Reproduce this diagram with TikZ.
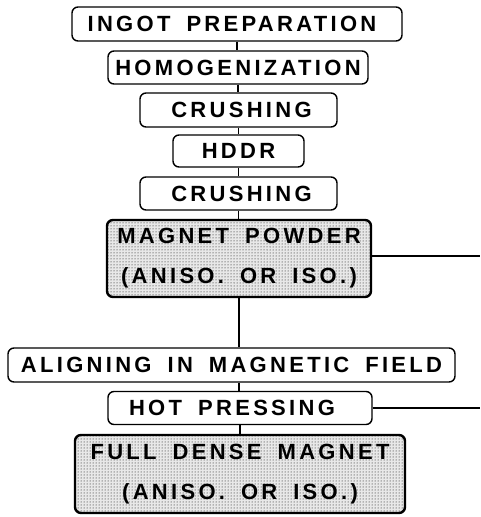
\documentclass[tikz,border=0pt]{standalone}
\usepackage{fontspec}
\setmainfont{Liberation Sans}[LetterSpace=15, WordSpace=1.7]
\usetikzlibrary{patterns}
\tikzset{
  stepbox/.style={draw, line width=1.4pt, rounded corners=6pt, inner sep=0pt,
    font=\bfseries\fontsize{22}{40}\selectfont},
  resultbox/.style={stepbox, line width=2.4pt, align=center,
    preaction={fill=black!9}, pattern=dots, pattern color=black},
  link/.style={line width=1.5pt},
}
\begin{document}
\begin{tikzpicture}[x=1pt, y=-1pt]
  \useasboundingbox (0,0) rectangle (480,517);
  % process chain
  \node[stepbox, minimum width=330pt, minimum height=34pt] (ingot) at (237,24) {INGOT PREPARATION\hspace*{10pt}};
  \node[stepbox, minimum width=260pt, minimum height=33pt] (homog) at (238,67.5) {HOMOGENIZATION};
  \node[stepbox, minimum width=197pt, minimum height=34pt] (crush1) at (238.5,110) {\hspace*{6pt}CRUSHING};
  \node[stepbox, minimum width=131pt, minimum height=32pt] (hddr) at (238.5,151) {HDDR};
  \node[stepbox, minimum width=197pt, minimum height=33pt] (crush2) at (238.5,193.5) {\hspace*{6pt}CRUSHING};
  \node[resultbox, minimum width=264pt, minimum height=77pt] (powder) at (239,258.5) {MAGNET POWDER\\(ANISO. OR ISO.)};
  \node[stepbox, minimum width=447pt, minimum height=34pt] (align) at (231.5,365) {ALIGNING IN MAGNETIC FIELD};
  \node[stepbox, minimum width=264pt, minimum height=33pt] (hotpress) at (240,408) {HOT PRESSING\hspace*{16pt}};
  \node[resultbox, minimum width=330pt, minimum height=78pt] (dense) at (240,474) {FULL DENSE MAGNET\\(ANISO. OR ISO.)};
  % branch ends at the right margin
  \coordinate (powderout) at (480,256);
  \coordinate (pressout) at (480,408);
  % vertical spine
  \draw[link] (ingot.south) -- (ingot.south |- homog.north);
  \draw[link] (homog.south) -- (homog.south |- crush1.north);
  \draw[link] (crush1.south) -- (crush1.south |- hddr.north);
  \draw[link] (hddr.south) -- (hddr.south |- crush2.north);
  \draw[link] (crush2.south) -- (crush2.south |- powder.north);
  \draw[link] (powder.south) -- (powder.south |- align.north);
  \draw[link] (powder.south |- align.south) -- (powder.south |- hotpress.north);
  \draw[link] (hotpress.south) -- (hotpress.south |- dense.north);
  % side branches
  \draw[link] (powder.east |- powderout) -- (powderout);
  \draw[link] (hotpress.east) -- (pressout);
\end{tikzpicture}
\end{document}
